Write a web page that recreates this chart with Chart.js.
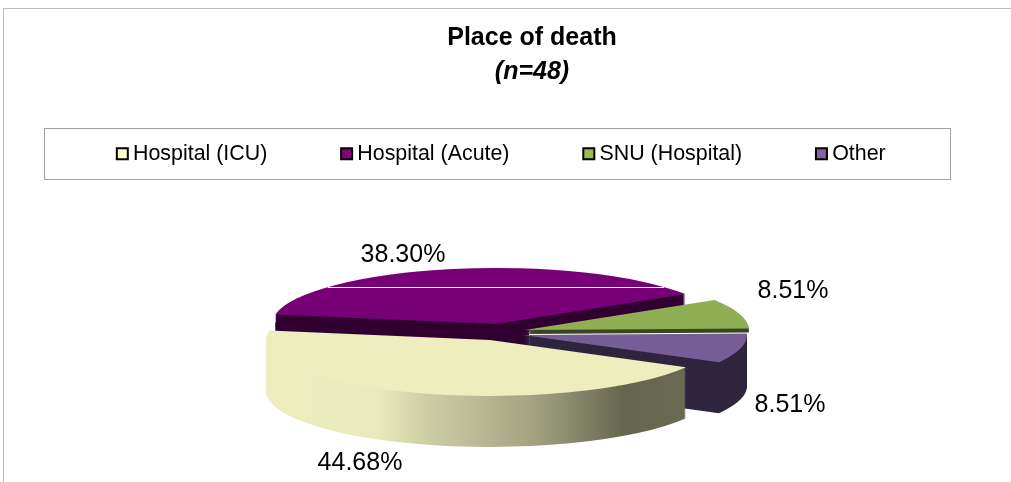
<!DOCTYPE html>
<html>
<head>
<meta charset="utf-8">
<style>html,body{margin:0;padding:0;background:#fff}#wrap{width:1011px;height:482px}</style>
<script src="https://cdn.jsdelivr.net/npm/chart.js@4/dist/chart.umd.min.js"></script>
</head>
<body>
<div id="wrap"><canvas id="c" width="1011" height="482"></canvas></div>
<script>
const titleText = 'Place of death';
const subtitleText = '(n=48)';
const categories = ['Hospital (ICU)', 'Hospital (Acute)', 'SNU (Hospital)', 'Other'];
const values = [44.68, 38.30, 8.51, 8.51];

const topColors = ['#EDEDBE', '#770077', '#90AE53', '#775D97'];
const sideColors = [null, '#300030', '#3A4621', '#2F253F'];
const legendColors = ['#FFFFCC', '#800080', '#9BBB59', '#8064A2'];

const FONT = '"Liberation Sans", Arial, sans-serif';
const TILT = 0.25;
const RADIUS = 224;
const PIE_CENTER = {x: 505, y: 333};
const explode = [[-15, 7], [-9, -9], [20, -3], [18, 2]];
const sideDepth = [51, 12, 4, 51];
const drawOrder = [1, 2, 3, 0];
const labelOffset = [[-130, 123], [-93, -69], [268, -39], [267, 70]];
const gradientStops = [[0, '#EDEDBE'], [0.245, '#EAEABC'], [0.373, '#CBCBA3'], [0.596, '#A3A383'], [0.80, '#66664F'], [0.93, '#6A6A53'], [1, '#6A6A53']];

const pie3d = {
  id: 'pie3d',
  afterLayout(chart) {
    const {legend, titleBlock} = chart;
    const sub = chart.boxes.find(b => b !== titleBlock && b.options && b.options.text === subtitleText);
    if (titleBlock) { titleBlock.left = 0; titleBlock.right = 1064; titleBlock.top = 23; titleBlock.bottom = 53; }
    if (sub) { sub.left = 0; sub.right = 1064; sub.top = 57; sub.bottom = 87; }
    if (legend) {
      legend.left = 43; legend.right = 1011; legend.top = 143 - legend.options.labels.padding;
    }
  },
  beforeDraw(chart) {
    const ctx = chart.ctx;
    ctx.save();
    ctx.fillStyle = '#fff';
    ctx.fillRect(0, 0, 1011, 482);
    ctx.strokeStyle = '#BDBDBD';
    ctx.lineWidth = 1;
    ctx.beginPath();
    ctx.moveTo(3.5, 482); ctx.lineTo(3.5, 8.5); ctx.lineTo(1011, 8.5);
    ctx.stroke();
    ctx.strokeStyle = '#A0A0A0';
    ctx.strokeRect(44.5, 128.5, 906, 51);
    ctx.restore();
  },
  beforeDatasetDraw(chart, args) {
    const ctx = chart.ctx;
    const arcs = args.meta.data;
    const apex = i => [PIE_CENTER.x + explode[i][0], PIE_CENTER.y + explode[i][1]];
    drawOrder.forEach(i => {
      const arc = arcs[i];
      const base = arc.options;
      const [tx, ty] = apex(i);
      const place = (dy) => {
        ctx.setTransform(1, 0, 0, TILT, tx - arc.x, ty + dy - arc.y * TILT);
      };
      ctx.save();
      let side = sideColors[i];
      if (!side) {
        const g = ctx.createLinearGradient(arc.x - arc.outerRadius, 0, arc.x + arc.outerRadius, 0);
        gradientStops.forEach(s => g.addColorStop(s[0], s[1]));
        side = g;
      }
      arc.options = Object.assign({}, base, {backgroundColor: side, borderWidth: 0});
      for (let d = sideDepth[i]; d >= 1; d--) { place(d); arc.draw(ctx); }
      arc.options = Object.assign({}, base, {backgroundColor: topColors[i], borderWidth: 0});
      place(0); arc.draw(ctx);
      arc.options = base;
      ctx.restore();
      if (i === 1) {
        // thin light streak across the top face of this slice
        const dy = 37, half = arc.outerRadius * Math.sqrt(1 - Math.pow(dy / (arc.outerRadius * TILT), 2));
        ctx.save();
        ctx.fillStyle = '#fff';
        ctx.fillRect(tx - half, ty - dy, 2 * half, 1);
        // dark wedge that closes the hub between the exploded slices
        const [sx, sy] = apex(2), [ox, oy] = apex(3);
        const lx = tx + arc.outerRadius * Math.cos(arc.startAngle);
        const ly = ty + arc.outerRadius * TILT * Math.sin(arc.startAngle);
        ctx.fillStyle = sideColors[1];
        ctx.beginPath();
        ctx.moveTo(lx, ly + 8);
        ctx.lineTo(tx, ty + 8);
        ctx.lineTo(tx, ty);
        ctx.lineTo(sx + 4, sy);
        ctx.lineTo(ox + 6, oy + 16);
        ctx.lineTo(tx, ty + 20);
        ctx.lineTo(lx, ly + 20);
        ctx.closePath();
        ctx.fill();
        ctx.restore();
      }
    });
    return false;
  },
  afterDatasetsDraw(chart) {
    const ctx = chart.ctx;
    ctx.save();
    ctx.font = '25px ' + FONT;
    ctx.fillStyle = '#000';
    ctx.textAlign = 'center';
    ctx.textBaseline = 'middle';
    values.forEach((v, i) => {
      const x = PIE_CENTER.x + explode[i][0] + labelOffset[i][0];
      const y = PIE_CENTER.y + explode[i][1] + labelOffset[i][1];
      ctx.fillText(v.toFixed(2) + '%', x, y);
    });
    ctx.restore();
  }
};

new Chart(document.getElementById('c'), {
  type: 'pie',
  data: {
    labels: categories,
    datasets: [{data: values, backgroundColor: topColors, borderWidth: 0, radius: RADIUS}]
  },
  plugins: [pie3d],
  options: {
    responsive: false,
    animation: false,
    rotation: 119,
    layout: {padding: 0},
    plugins: {
      tooltip: {enabled: false},
      title: {display: true, text: titleText, color: '#000', padding: 0,
        font: {family: FONT, size: 25, weight: 'bold', lineHeight: 1.2}},
      subtitle: {display: true, text: subtitleText, color: '#000', padding: 0,
        font: {family: FONT, size: 25, weight: 'bold', style: 'italic', lineHeight: 1.2}},
      legend: {
        display: true, position: 'top', align: 'start',
        labels: {
          color: '#000', font: {family: FONT, size: 21.4},
          padding: 79.3, boxWidth: 0.01, boxHeight: 11,
          usePointStyle: true, pointStyle: 'rect',
          generateLabels: () => categories.map((t, i) => ({
            text: t, fillStyle: legendColors[i], strokeStyle: '#000', lineWidth: 2,
            pointStyle: 'rect', index: i, hidden: false
          }))
        }
      }
    }
  }
});
</script>
</body>
</html>
